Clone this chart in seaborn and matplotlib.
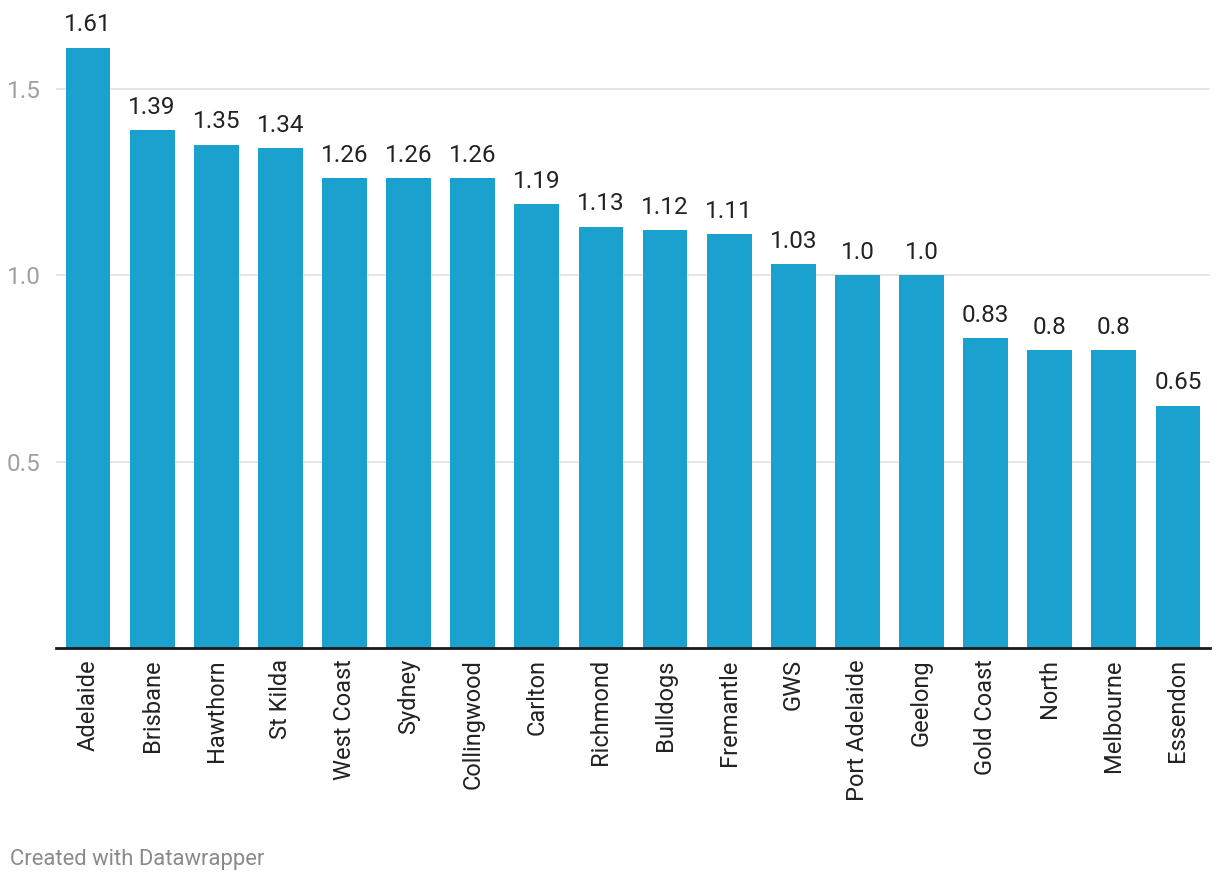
import pandas as pd
import matplotlib.pyplot as plt
import seaborn as sns

teams = ["Adelaide", "Brisbane", "Hawthorn", "St Kilda", "West Coast", "Sydney",
         "Collingwood", "Carlton", "Richmond", "Bulldogs", "Fremantle", "GWS",
         "Port Adelaide", "Geelong", "Gold Coast", "North", "Melbourne", "Essendon"]
values = [1.61, 1.39, 1.35, 1.34, 1.26, 1.26, 1.26, 1.19, 1.13, 1.12, 1.11, 1.03,
          1.0, 1.0, 0.83, 0.8, 0.8, 0.65]
value_labels = ["1.61", "1.39", "1.35", "1.34", "1.26", "1.26", "1.26", "1.19", "1.13",
                "1.12", "1.11", "1.03", "1.0", "1.0", "0.83", "0.8", "0.8", "0.65"]
yticks = [0.5, 1.0, 1.5]
ytick_labels = ["0.5", "1.0", "1.5"]

sns.set_style("white")
plt.rcParams["font.family"] = ["Roboto", "DejaVu Sans"]

df = pd.DataFrame({"team": teams, "value": values})

fig = plt.figure(figsize=(12.2, 8.86), dpi=100)
ax = fig.add_axes([0.0459, 0.2686, 0.9459, 0.7156])

sns.barplot(data=df, x="team", y="value", color="#1ba1cd", saturation=1,
            width=0.70, linewidth=0, ax=ax, zorder=3)

ax.set_xlim(-0.5, len(teams) - 0.5)
ax.set_ylim(0, 1.7)
ax.set_yticks(yticks)
ax.set_yticklabels(ytick_labels, fontsize=17.5, color="#a0a0a0")
ax.tick_params(axis="y", length=0, pad=11)
ax.tick_params(axis="x", length=0, pad=8, labelsize=17, labelcolor="#222222")
for lab in ax.get_xticklabels():
    lab.set_rotation(90)
    lab.set_va("top")
    lab.set_ha("center")
ax.grid(axis="y", color="#e1e1e1", linewidth=1.2, zorder=0)
ax.grid(axis="x", visible=False)
for s in ["top", "right", "left"]:
    ax.spines[s].set_visible(False)
ax.spines["bottom"].set_color("#1a1a1a")
ax.spines["bottom"].set_linewidth(2)
ax.spines["bottom"].set_zorder(4)
ax.set_xlabel("")
ax.set_ylabel("")

for i, (v, t) in enumerate(zip(values, value_labels)):
    ax.annotate(t, (i, v), xytext=(0, 8), textcoords="offset points",
                ha="center", va="bottom", fontsize=17.5, color="#222222")

fig.text(10 / 1220, 1 - 860 / 886, "Created with Datawrapper", fontsize=15.8,
         color="#8a8a8a", ha="left", va="center")

fig.savefig("out.png", dpi=100)
